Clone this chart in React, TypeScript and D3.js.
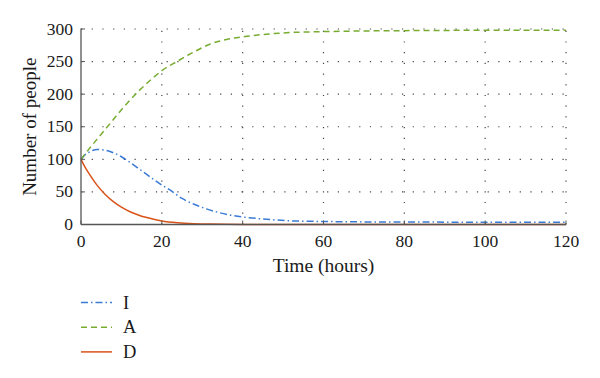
import React from "react";
import * as d3 from "d3";

const timeI = [0, 1, 2, 3, 4, 6, 8, 10, 12, 14, 16, 18, 20, 22, 25, 28, 31, 34, 37, 40, 44, 48, 52, 56, 60, 70, 80, 100, 120];
const valuesI = [100, 107, 111, 114, 115, 114, 110, 104, 96, 87, 78, 69, 60.5, 53, 40, 31, 24, 18.5, 14.3, 11.5, 9, 7, 5.6, 5, 4.6, 4, 3.8, 3.5, 3.4];

const timeA = [0, 2, 4, 6, 8, 10, 12, 14, 16, 18, 20, 24, 28, 32, 36, 40, 45, 50, 60, 70, 80, 100, 120];
const valuesA = [100, 116, 131, 146, 161, 176, 190, 203, 215, 226, 236, 251, 265, 277, 284, 288, 291.5, 294, 296, 297, 297.5, 298, 298];

const timeD = [0, 1, 2, 4, 6, 8, 10, 12, 14, 16, 18, 20, 24, 28, 32, 40, 60, 120];
const valuesD = [100, 88, 78, 60, 46, 35, 26.5, 20, 15, 11, 8, 5.5, 2.7, 1.3, 0.6, 0.1, 0, 0];

const xTicks = [0, 20, 40, 60, 80, 100, 120];
const yTicks = [0, 50, 100, 150, 200, 250, 300];

const seriesNames = ["I", "A", "D"];
const seriesColors = ["#3a7bd5", "#77ac30", "#d95319"];
const seriesDash = ["7 3 1.5 3", "6 4", "none"];

export default function App() {
  const W = 600, H = 378;
  const x = d3.scaleLinear().domain([0, 120]).range([81, 566]);
  const y = d3.scaleLinear().domain([0, 300]).range([224.5, 29]);
  const line = d3
    .line<[number, number]>()
    .x((d) => x(d[0]))
    .y((d) => y(d[1]))
    .curve(d3.curveMonotoneX);

  const series = [
    timeI.map((t, i) => [t, valuesI[i]] as [number, number]),
    timeA.map((t, i) => [t, valuesA[i]] as [number, number]),
    timeD.map((t, i) => [t, valuesD[i]] as [number, number]),
  ];
  const font = "'Liberation Serif', 'Times New Roman', serif";
  const axisColor = "#555";
  const gridColor = "#444";
  const textColor = "#1a1a1a";

  return (
    <svg width={W} height={H} style={{ position: "absolute", left: 0, top: 0, background: "#fff" }}>
      {/* grid */}
      {yTicks.filter((v) => v > 0).map((v) => (
        <line key={"gy" + v} x1={x(0)} x2={x(120)} y1={y(v)} y2={y(v)} stroke={gridColor} strokeWidth={1.2} strokeDasharray="1.2 9.5" />
      ))}
      {xTicks.filter((v) => v > 0).map((v) => (
        <line key={"gx" + v} x1={x(v)} x2={x(v)} y1={y(0)} y2={y(300)} stroke={gridColor} strokeWidth={1.2} strokeDasharray="1.2 9.5" />
      ))}
      {/* series */}
      {series.map((s, i) => (
        <path key={seriesNames[i]} d={line(s) || ""} fill="none" stroke={seriesColors[i]} strokeWidth={1.5} strokeDasharray={seriesDash[i]} />
      ))}
      {/* axes */}
      <line x1={x(0)} x2={x(0)} y1={y(0)} y2={y(300) - 0.5} stroke={axisColor} strokeWidth={1.3} />
      <line x1={x(0)} x2={x(120)} y1={y(0)} y2={y(0)} stroke={axisColor} strokeWidth={1.3} />
      {xTicks.map((v) => (
        <g key={"xt" + v}>
          <line x1={x(v)} x2={x(v)} y1={y(0)} y2={y(0) - 4} stroke={axisColor} strokeWidth={1} />
          <text x={x(v)} y={247} textAnchor="middle" fontFamily={font} fontSize={17.5} fill={textColor}>{v}</text>
        </g>
      ))}
      {yTicks.map((v) => (
        <g key={"yt" + v}>
          <line x1={x(0)} x2={x(0) + 4} y1={y(v)} y2={y(v)} stroke={axisColor} strokeWidth={1} />
          <text x={73} y={y(v) + 5.5} textAnchor="end" fontFamily={font} fontSize={17.5} fill={textColor}>{v}</text>
        </g>
      ))}
      <text x={(x(0) + x(120)) / 2} y={272} textAnchor="middle" fontFamily={font} fontSize={19.5} fill={textColor}>Time (hours)</text>
      <text transform={`translate(36,${(y(0) + y(300)) / 2}) rotate(-90)`} textAnchor="middle" fontFamily={font} fontSize={19} fill={textColor}>Number of people</text>
      {/* legend */}
      {seriesNames.map((n, i) => {
        const ly = 302.5 + i * 24.7;
        return (
          <g key={"lg" + n}>
            <line x1={81} x2={112} y1={ly} y2={ly} stroke={seriesColors[i]} strokeWidth={1.5} strokeDasharray={seriesDash[i]} />
            <text x={123} y={ly + 6} fontFamily={font} fontSize={18.5} fill={textColor}>{n}</text>
          </g>
        );
      })}
    </svg>
  );
}
